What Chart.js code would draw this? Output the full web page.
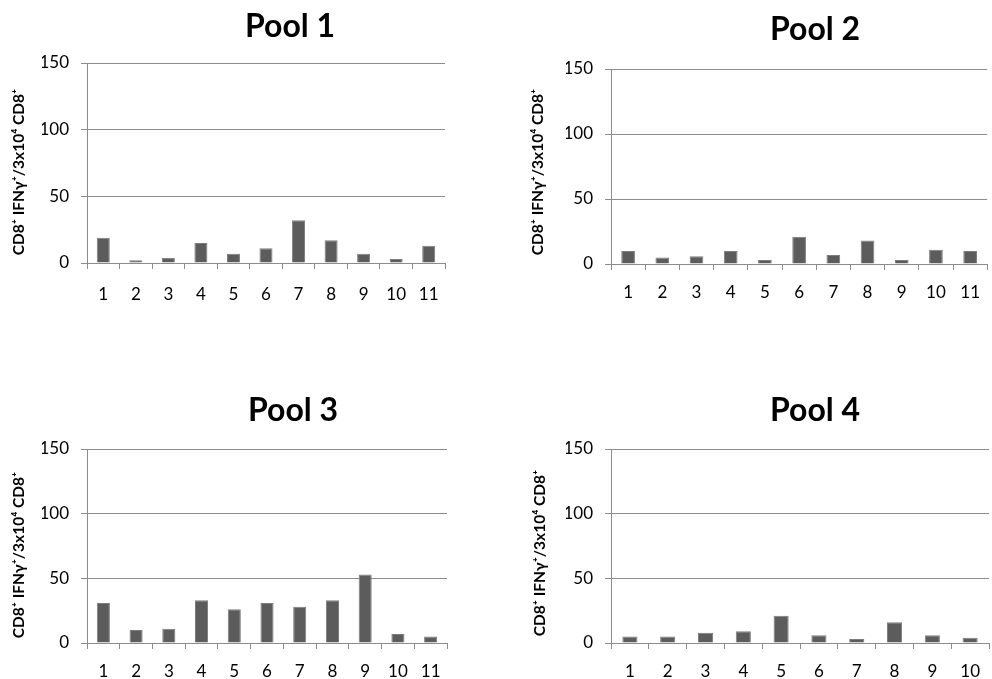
<!DOCTYPE html>
<html>
<head>
<meta charset="utf-8">
<title>Pools</title>
<script src="https://cdn.jsdelivr.net/npm/chart.js@4/dist/chart.umd.min.js"></script>
<style>
  html, body { margin: 0; padding: 0; background: #fff; }
  #wrap { position: relative; width: 992px; height: 679px; overflow: hidden; }
  canvas { position: absolute; }
</style>
</head>
<body>
<div id="wrap">
  <canvas id="c1"></canvas>
  <canvas id="c2"></canvas>
  <canvas id="c3"></canvas>
  <canvas id="c4"></canvas>
</div>
<script>
// Peptide numbers per pool
const peptides11 = ['1', '2', '3', '4', '5', '6', '7', '8', '9', '10', '11'];
const peptides10 = ['1', '2', '3', '4', '5', '6', '7', '8', '9', '10'];

// CD8+ IFNγ+ cells per 3x10^4 CD8+ cells
const pool1 = [19, 2, 4, 15, 7, 11, 32, 17, 7, 3, 13];
const pool2 = [10, 5, 6, 10, 3, 21, 7, 18, 3, 11, 10];
const pool3 = [31, 10, 11, 33, 26, 31, 28, 33, 53, 7, 5];
const pool4 = [5, 5, 8, 9, 21, 6, 3, 16, 6, 4];

const titles = ['Pool 1', 'Pool 2', 'Pool 3', 'Pool 4'];
const yTicks = [0, 50, 100, 150];
const yLabel = 'CD8\u207A IFN\u03B3\u207A/3x10\u2074 CD8\u207A';

const FONT = 'Lato, "Open Sans", sans-serif';
const AXIS_GREY = '#8c8c8c';
const BAR_GREY = '#5c5c5c';
const Y_W = 45;   // fixed width of the value axis box
const X_H = 45;   // fixed height of the category axis box

// Page layout of each panel: canvas box, plot area, title and axis-label anchors
const panels = [
  { id: 'c1', labels: peptides11, data: pool1, title: titles[0],
    box: { x: 0, y: 0, w: 470, h: 330 },
    area: { l: 87, t: 63, r: 445, b: 263 },
    titleAt: { x: 290, y: 27 }, yLabAt: { x: 19, y: 172 }, xPad: 15 },
  { id: 'c2', labels: peptides11, data: pool2, title: titles[1],
    box: { x: 500, y: 0, w: 492, h: 330 },
    area: { l: 611, t: 69, r: 992, b: 264 },
    titleAt: { x: 815, y: 30 }, yLabAt: { x: 538, y: 172 }, xPad: 12 },
  { id: 'c3', labels: peptides11, data: pool3, title: titles[2],
    box: { x: 0, y: 380, w: 470, h: 299 },
    area: { l: 87, t: 449, r: 447, b: 643 },
    titleAt: { x: 293, y: 411 }, yLabAt: { x: 19, y: 555 }, xPad: 12 },
  { id: 'c4', labels: peptides10, data: pool4, title: titles[3],
    box: { x: 500, y: 380, w: 492, h: 299 },
    area: { l: 611, t: 449, r: 992, b: 643 },
    titleAt: { x: 815, y: 411 }, yLabAt: { x: 540, y: 553 }, xPad: 12 }
];

// Draws the panel heading and the rotated value-axis caption
const panelText = {
  id: 'panelText',
  afterDraw(chart, args, opts) {
    const ctx = chart.ctx;
    ctx.save();
    ctx.fillStyle = '#000';
    ctx.textAlign = 'center';
    ctx.textBaseline = 'middle';
    ctx.font = 'bold 32px ' + FONT;
    ctx.fillText(opts.title, opts.tx, opts.ty);
    ctx.translate(opts.lx, opts.ly);
    ctx.rotate(-Math.PI / 2);
    ctx.font = 'bold 15.5px ' + FONT;
    ctx.fillText(yLabel, 0, 0);
    ctx.restore();
  }
};

panels.forEach(p => {
  const cv = document.getElementById(p.id);
  cv.style.left = p.box.x + 'px';
  cv.style.top = p.box.y + 'px';
  cv.style.width = p.box.w + 'px';
  cv.style.height = p.box.h + 'px';
  cv.width = p.box.w;
  cv.height = p.box.h;

  new Chart(cv, {
    type: 'bar',
    data: {
      labels: p.labels,
      datasets: [{
        data: p.data,
        backgroundColor: BAR_GREY,
        borderColor: '#7c7c7c',
        borderWidth: 1,
        borderSkipped: 'bottom',
        barPercentage: 0.4,
        categoryPercentage: 1.0
      }]
    },
    options: {
      responsive: false,
      animation: false,
      devicePixelRatio: 1,
      layout: {
        padding: {
          left: p.area.l - p.box.x - Y_W,
          right: p.box.x + p.box.w - p.area.r,
          top: p.area.t - p.box.y,
          bottom: p.box.y + p.box.h - p.area.b - X_H
        }
      },
      plugins: {
        legend: { display: false },
        tooltip: { enabled: false },
        title: { display: false },
        panelText: {
          title: p.title,
          tx: p.titleAt.x - p.box.x, ty: p.titleAt.y - p.box.y,
          lx: p.yLabAt.x - p.box.x, ly: p.yLabAt.y - p.box.y
        }
      },
      scales: {
        x: {
          offset: true,
          afterFit(scale) { scale.height = X_H; },
          grid: {
            offset: true,
            drawOnChartArea: false,
            drawTicks: true,
            tickLength: 6,
            color: AXIS_GREY,
            lineWidth: 1
          },
          border: { display: true, color: AXIS_GREY, width: 1 },
          ticks: {
            color: '#000',
            font: { family: FONT, size: 17 },
            padding: p.xPad,
            maxRotation: 0,
            autoSkip: false
          }
        },
        y: {
          min: 0,
          max: 150,
          afterFit(scale) { scale.width = Y_W; },
          afterBuildTicks(scale) { scale.ticks = yTicks.map(v => ({ value: v })); },
          grid: {
            color: AXIS_GREY,
            lineWidth: 1,
            drawTicks: true,
            tickLength: 6
          },
          border: { display: true, color: AXIS_GREY, width: 1 },
          ticks: {
            color: '#000',
            font: { family: FONT, size: 17 },
            padding: 12
          }
        }
      }
    },
    plugins: [panelText]
  });
});
</script>
</body>
</html>
